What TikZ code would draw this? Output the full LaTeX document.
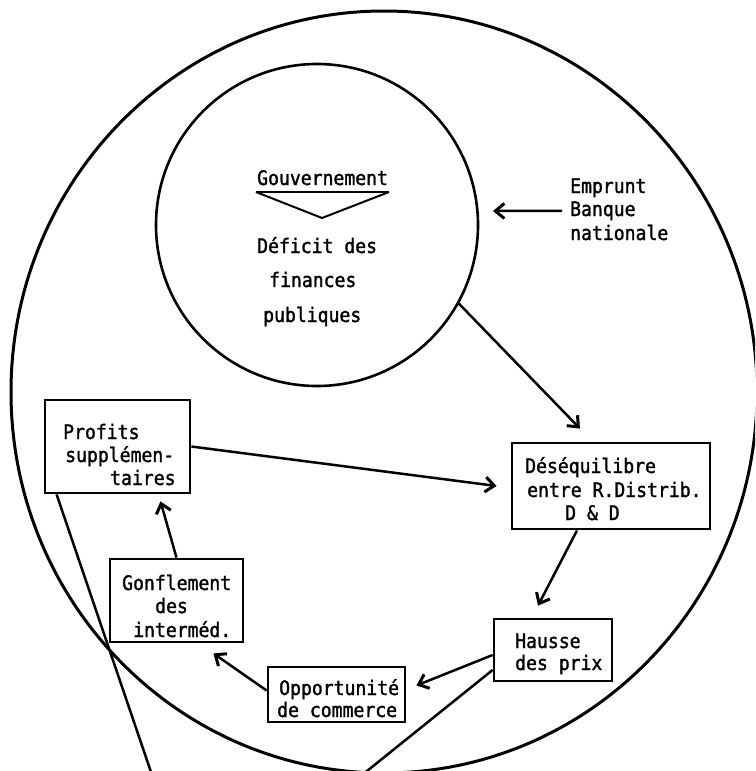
\documentclass[tikz,border=0pt]{standalone}
\usepackage{fontspec}
\newfontfamily\dmono[FakeStretch=0.905,FakeBold=1.5]{DejaVu Sans Mono}
\usetikzlibrary{arrows.meta}
\begin{document}
\begin{tikzpicture}[x=1pt,y=-1pt,
  txt/.style={anchor=base west, inner sep=0pt, font=\dmono\fontsize{20}{24}\selectfont},
  boxnode/.style={draw, line width=2.8pt, rectangle, inner sep=0pt},
  link/.style={line width=2.5pt},
  arr/.style={line width=2.5pt, -{Straight Barb[length=9pt,width=15pt,line width=3pt]}},
]
\useasboundingbox (0,0) rectangle (755,771);
\clip (0,0) rectangle (755,771);
\fill[white] (0,0) rectangle (755,771);
% outer circle
\draw[line width=3pt] (384,392) ellipse [x radius=373, y radius=381];
% inner circle
\node[circle, draw, line width=2.6pt, minimum size=322pt, inner sep=0pt] (gov) at (317,225) {};
% texts in inner circle
\node[txt] (gouvT) at (257,185) {Gouvernement};
\draw[line width=2.8pt] (256,192) -- (389,192);
\draw[line width=2pt, line join=miter] (256,192) -- (322,218) -- (389,192);
\node[txt] (def1) at (257,253) {Déficit des};
\node[txt] (def2) at (269,287) {finances};
\node[txt] (def3) at (263,322) {publiques};
% Emprunt
\node[txt] (emp1) at (570,193) {Emprunt};
\node[txt] (emp2) at (570,216) {Banque};
\node[txt] (emp3) at (570,240) {nationale};
\coordinate (empT) at (493,211);
% boxes
\node[boxnode, minimum width=145pt, minimum height=93pt] (profits) at (117.5,446.5) {};
\node[boxnode, minimum width=198pt, minimum height=86pt] (deseq) at (611,486) {};
\node[boxnode, minimum width=118pt, minimum height=62pt] (hausse) at (553,650) {};
\node[boxnode, minimum width=137pt, minimum height=55pt] (opport) at (336.5,694.5) {};
\node[boxnode, minimum width=133pt, minimum height=83pt] (gonfl) at (176.5,600.5) {};
% box texts
\node[txt] (pr1) at (63,439) {Profits};
\node[txt] (pr2) at (65,462) {supplémen-};
\node[txt] (pr3) at (110,485) {taires};
\node[txt] (de1) at (525,473) {Déséquilibre};
\node[txt] (de2) at (527,497) {entre R.Distrib.};
\node[txt] (de3) at (565,520) {D \& D};
\node[txt] (ha1) at (515,648) {Hausse};
\node[txt] (ha2) at (515,670) {des prix};
\node[txt] (op1) at (279,695) {Opportunité};
\node[txt] (op2) at (277,717) {de commerce};
\node[txt] (go1) at (122,590) {Gonflement};
\node[txt] (go2) at (155,613) {des};
\node[txt] (go3) at (133,637) {interméd.};
% free ends
\coordinate (botL) at (152,775);
\coordinate (botR) at (362,775);
% connectors
\draw[arr] ([xshift=-8pt]emp2.west) -- (empT);
\draw[arr] (gov.-29) -- ([xshift=-31pt,yshift=13pt]deseq.north);
\draw[arr] (profits.east) -- ([xshift=-14pt]deseq.west);
\draw[arr] ([xshift=-34pt]deseq.south) -- ([xshift=-15pt,yshift=12pt]hausse.north);
\draw[arr] ([yshift=-5pt]hausse.west) -- ([xshift=10pt,yshift=9pt]opport.east);
\draw[arr] ([yshift=4pt]opport.west) -- ([xshift=-31pt,yshift=-10pt]gonfl.south east);
\draw[arr] (gonfl.north) -- ([xshift=43pt,yshift=-7pt]profits.south);
\draw[link] ([xshift=13pt]profits.south west) -- (botL);
\draw[link] ([yshift=-20pt]hausse.west) -- (botR);
\end{tikzpicture}
\end{document}
